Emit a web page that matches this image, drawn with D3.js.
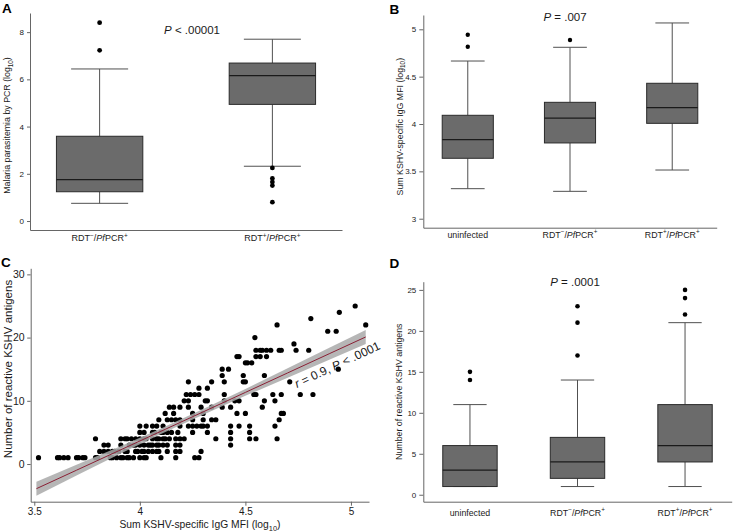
<!DOCTYPE html>
<html><head><meta charset="utf-8">
<script src="https://cdn.jsdelivr.net/npm/d3@7"></script>
<style>
body{margin:0;background:#fff;}
svg{display:block;font-family:"Liberation Sans",Arial,Helvetica,sans-serif;}
</style></head>
<body>
<svg id="chart" width="736" height="532"></svg>
<script>
// ---------- DATA ----------
// Panel A
const catsA = ["RDT−/PfPCR+", "RDT+/PfPCR+"];
const aLo  = [0.75, 2.32];
const aQ1  = [1.24, 4.94];
const aMed = [1.75, 6.16];
const aQ3  = [3.59, 6.69];
const aHi  = [6.44, 7.70];
const aOut = [[8.4, 7.23], [2.25, 1.8, 1.65, 1.5, 0.8]];
const aTicks = [0, 2, 4, 6, 8];
// Panel B
const catsB = ["uninfected", "RDT−/PfPCR+", "RDT+/PfPCR+"];
const bLo  = [3.317, 3.289, 3.514];
const bQ1  = [3.638, 3.80, 4.007];
const bMed = [3.834, 4.063, 4.172];
const bQ3  = [4.092, 4.229, 4.43];
const bHi  = [4.665, 4.81, 5.067];
const bOut = [[4.943, 4.816], [4.887], []];
const bTicks = [3, 3.5, 4, 4.5, 5];
// Panel D
const catsD = ["uninfected", "RDT−/PfPCR+", "RDT+/PfPCR+"];
const dLo  = [1, 1, 1];
const dQ1  = [1, 2, 4];
const dMed = [3, 4, 6];
const dQ3  = [6, 7, 11];
const dHi  = [11, 14, 21];
const dOut = [[15, 14], [23, 21, 17], [25, 24, 22]];
const dTicks = [0, 5, 10, 15, 20, 25];
// Panel C scatter (x = sum KSHV IgG MFI log10, y = number of reactive antigens)
const cLevels = [
  [1, [3.52,3.61,3.62,3.64,3.66,3.70,3.71,3.73,3.74,3.79,3.80,3.86,3.87,3.89,3.91,3.92,3.94,3.95,3.97,4.0,4.02,4.03,4.10,4.17,4.26,4.28]],
  [2, [3.81,3.83,3.85,3.87,3.88,3.90,3.93,3.94,3.98,3.99,4.01,4.02,4.04,4.06,4.08,4.09,4.13,4.17,4.19,4.29]],
  [3, [3.83,3.85,3.91,3.95,3.97,3.98,4.0,4.02,4.04,4.05,4.06,4.08,4.09,4.11,4.13,4.17,4.19,4.43]],
  [4, [3.79,3.91,3.93,3.94,3.96,3.98,4.0,4.02,4.03,4.06,4.08,4.09,4.11,4.12,4.14,4.17,4.19,4.21,4.36,4.43,4.52,4.55,4.65]],
  [5, [4.0,4.02,4.06,4.07,4.10,4.11,4.13,4.15,4.18,4.25,4.32,4.43,4.52]],
  [6, [4.0,4.03,4.06,4.08,4.11,4.19,4.23,4.25,4.27,4.29,4.30,4.32,4.43,4.47,4.52,4.64]],
  [7, [4.09,4.13,4.15,4.17,4.19,4.25,4.30,4.34,4.36,4.66]],
  [8, [4.12,4.16,4.25,4.30,4.46,4.50,4.67,4.68]],
  [9, [4.14,4.16,4.19,4.23,4.29,4.34,4.39,4.43,4.58]],
  [10, [4.21,4.23,4.31,4.32,4.40,4.45,4.47,4.59,4.64]],
  [11, [4.22,4.24,4.26,4.28,4.40,4.54,4.55,4.63,4.67,4.76,4.82]],
  [12, [4.28,4.32]],
  [13, [4.23,4.34,4.40,4.49,4.50,4.71]],
  [14, [4.39,4.49,4.59]],
  [15, [4.39,4.42,4.94]],
  [16, [4.50,4.51,4.53]],
  [17, [4.46,4.47,4.55,4.57,4.60]],
  [18, [4.55,4.57,4.58,4.60,4.62,4.66,4.67,4.74,4.80]],
  [19, [4.73]],
  [20, [4.545]],
  [21, [4.89,4.93]],
  [22, [4.65,5.07]],
  [23, [4.81]],
  [24, [4.945]],
  [25, [5.02]]
];
const fitX   = [3.51, 3.7, 3.9, 4.1, 4.3, 4.5, 4.7, 4.9, 5.07];
const fitY   = [-3.9, -0.98, 2.1, 5.18, 8.25, 11.33, 14.41, 17.49, 20.1];
const bandLo = [-5.0, -1.83, 1.5, 4.73, 7.8, 10.78, 13.66, 16.54, 19.0];
const bandHi = [-2.8, -0.13, 2.7, 5.63, 8.7, 11.88, 15.16, 18.44, 21.2];
const cXTicks = [3.5, 4, 4.5, 5];
const cYTicks = [0, 10, 20, 30];

// ---------- HELPERS ----------
const svg = d3.select("#chart");
const AXIS = "#666", TXT = "#1a1a1a", FILL = "#6b6b6b", EDGE = "#2a2a2a", WHISK = "#505050";

function richCat(t, str, fs) {
  if (!str.startsWith("RDT")) { t.text(str); return; }
  const sign = str[3];
  const sh = fs * 0.38;
  t.append("tspan").text("RDT");
  t.append("tspan").attr("dy", -sh).attr("font-size", fs * 0.72).text(sign);
  t.append("tspan").attr("dy", sh).text("/");
  t.append("tspan").attr("font-style", "italic").text("Pf");
  t.append("tspan").text("PCR");
  t.append("tspan").attr("dy", -sh).attr("font-size", fs * 0.72).text("+");
}
function logTitle(t, pre, fs) {
  t.append("tspan").text(pre + "(log");
  t.append("tspan").attr("dy", fs * 0.3).attr("font-size", fs * 0.72).text("10");
  t.append("tspan").attr("dy", -fs * 0.3).text(")");
}
function styleAxis(g, fs) {
  g.select(".domain").attr("stroke", AXIS);
  g.selectAll(".tick line").attr("stroke", AXIS);
  g.selectAll(".tick text").attr("fill", TXT).attr("font-size", fs).attr("font-family", null);
  g.attr("font-family", null);
}
function drawBoxes(g, x, y, cats, lo, q1, med, q3, hi, outs, boxFrac, capFrac, r) {
  const bw = x.step() * boxFrac, cw = x.step() * capFrac;
  cats.forEach((c, i) => {
    const cx = x(c);
    g.append("line").attr("x1", cx).attr("x2", cx).attr("y1", y(hi[i])).attr("y2", y(q3[i])).attr("stroke", WHISK);
    g.append("line").attr("x1", cx).attr("x2", cx).attr("y1", y(q1[i])).attr("y2", y(lo[i])).attr("stroke", WHISK);
    g.append("line").attr("x1", cx - cw/2).attr("x2", cx + cw/2).attr("y1", y(hi[i])).attr("y2", y(hi[i])).attr("stroke", WHISK);
    g.append("line").attr("x1", cx - cw/2).attr("x2", cx + cw/2).attr("y1", y(lo[i])).attr("y2", y(lo[i])).attr("stroke", WHISK);
    g.append("rect").attr("x", cx - bw/2).attr("width", bw)
      .attr("y", y(q3[i])).attr("height", Math.max(0.5, y(q1[i]) - y(q3[i])))
      .attr("fill", FILL).attr("stroke", EDGE).attr("stroke-width", 1);
    g.append("line").attr("x1", cx - bw/2).attr("x2", cx + bw/2).attr("y1", y(med[i])).attr("y2", y(med[i]))
      .attr("stroke", "#1a1a1a").attr("stroke-width", 1.2);
    g.selectAll(null).data(outs[i]).enter().append("circle")
      .attr("cx", cx).attr("cy", d => y(d)).attr("r", r).attr("fill", "#000");
  });
}
function catAxis(g, x, yPos, cats, fs, baseline) {
  g.append("g").attr("transform", `translate(0,${yPos})`)
    .call(d3.axisBottom(x).tickSize(0).tickSizeOuter(0).tickFormat(""))
    .call(a => a.select(".domain").attr("stroke", AXIS));
  cats.forEach(c => {
    const t = g.append("text").attr("x", x(c)).attr("y", baseline).attr("text-anchor", "middle")
      .attr("font-size", fs).attr("fill", TXT);
    richCat(t, c, fs);
  });
}
function panelLabel(x, y, s) {
  svg.append("text").attr("x", x).attr("y", y).attr("font-size", 13.5).attr("font-weight", "bold").attr("fill", "#000").text(s);
}
function pText(cx, y, rel, val) {
  const t = svg.append("text").attr("x", cx).attr("y", y).attr("text-anchor", "middle").attr("font-size", 11.5).attr("fill", TXT);
  t.append("tspan").attr("font-style", "italic").text("P");
  t.append("tspan").text(" " + rel + " " + val);
}

// ---------- PANEL A ----------
{
  const g = svg.append("g");
  const y = d3.scaleLinear().domain([-0.38, 8.81]).range([230, 13]);
  const x = d3.scalePoint().domain(catsA).range([30, 342]).padding(0.403);
  g.append("g").attr("transform", "translate(30,0)")
    .call(d3.axisLeft(y).tickValues(aTicks).tickSize(3).tickPadding(3).tickSizeOuter(0))
    .call(a => styleAxis(a, 8));
  catAxis(g, x, 230, catsA, 9, 241);
  drawBoxes(g, x, y, catsA, aLo, aQ1, aMed, aQ3, aHi, aOut, 0.5, 0.33, 2.4);
  const t = g.append("text").attr("transform", "translate(10,125.5) rotate(-90)").attr("text-anchor", "middle")
    .attr("font-size", 8.8).attr("fill", TXT);
  logTitle(t, "Malaria parasitemia by PCR ", 8.8);
  panelLabel(2, 12.5, "A");
  pText(192, 33.5, "<", ".00001");
}

// ---------- PANEL B ----------
{
  const g = svg.append("g");
  const y = d3.scaleLinear().domain([2.905, 5.151]).range([227.7, 15]);
  const x = d3.scalePoint().domain(catsB).range([423.3, 716.7]).padding(0.435);
  g.append("g").attr("transform", "translate(423.3,0)")
    .call(d3.axisLeft(y).tickValues(bTicks).tickSize(4).tickPadding(3).tickSizeOuter(0).tickFormat(d => String(d)))
    .call(a => styleAxis(a, 8));
  catAxis(g, x, 227.7, catsB, 8.8, 237.5);
  drawBoxes(g, x, y, catsB, bLo, bQ1, bMed, bQ3, bHi, bOut, 0.5, 0.33, 2.2);
  const t = g.append("text").attr("transform", "translate(402.5,126.7) rotate(-90)").attr("text-anchor", "middle")
    .attr("font-size", 8.8).attr("fill", TXT);
  logTitle(t, "Sum KSHV-specific IgG MFI ", 8.8);
  panelLabel(389.5, 13.5, "B");
  pText(565, 20.5, "=", ".007");
}

// ---------- PANEL D ----------
{
  const g = svg.append("g");
  const y = d3.scaleLinear().domain([-0.85, 26]).range([501.7, 281.7]);
  const x = d3.scalePoint().domain(catsD).range([423.3, 731.7]).padding(0.434);
  g.append("g").attr("transform", "translate(423.3,0)")
    .call(d3.axisLeft(y).tickValues(dTicks).tickSize(4).tickPadding(3).tickSizeOuter(0))
    .call(a => styleAxis(a, 8));
  catAxis(g, x, 501.7, catsD, 8.8, 515.5);
  drawBoxes(g, x, y, catsD, dLo, dQ1, dMed, dQ3, dHi, dOut, 0.506, 0.31, 2.3);
  g.append("text").attr("transform", "translate(401.5,391.7) rotate(-90)").attr("text-anchor", "middle")
    .attr("font-size", 8.8).attr("fill", TXT).text("Number of reactive KSHV antigens");
  panelLabel(389.5, 267.5, "D");
  pText(575, 285.5, "=", ".0001");
}

// ---------- PANEL C ----------
{
  const g = svg.append("g");
  const x = d3.scaleLinear().domain([3.483, 5.0855]).range([30.7, 369]);
  const y = d3.scaleLinear().domain([-5.96, 30.96]).range([501.7, 268.3]);
  g.append("g").attr("transform", "translate(0,501.7)")
    .call(d3.axisBottom(x).tickValues(cXTicks).tickSize(4).tickPadding(2).tickSizeOuter(0).tickFormat(d => String(d)))
    .call(a => styleAxis(a, 10));
  g.append("g").attr("transform", "translate(30.7,0)")
    .call(d3.axisLeft(y).tickValues(cYTicks).tickSize(3.5).tickPadding(2.5).tickSizeOuter(0))
    .call(a => styleAxis(a, 10.5));
  const pts = [];
  cLevels.forEach(([v, xs]) => xs.forEach(xv => pts.push([xv, v])));
  g.selectAll("circle.pt").data(pts).enter().append("circle").attr("class", "pt")
    .attr("cx", d => x(d[0])).attr("cy", d => y(d[1])).attr("r", 2.6).attr("fill", "#000");
  const band = fitX.map((v, i) => ({x: v, lo: bandLo[i], hi: bandHi[i], f: fitY[i]}));
  g.append("path").datum(band)
    .attr("d", d3.area().x(d => x(d.x)).y0(d => y(d.lo)).y1(d => y(d.hi)))
    .attr("fill", "#a9a9a9").attr("fill-opacity", 0.85);
  g.append("path").datum(band)
    .attr("d", d3.line().x(d => x(d.x)).y(d => y(d.f)))
    .attr("fill", "none").attr("stroke", "#8a2035").attr("stroke-width", 1);
  const lab = g.append("text").attr("transform", "translate(297,388) rotate(-25)")
    .attr("font-size", 12).attr("fill", TXT);
  lab.append("tspan").attr("font-style", "italic").text("r");
  lab.append("tspan").text(" = 0.9, ");
  lab.append("tspan").attr("font-style", "italic").text("P");
  lab.append("tspan").text(" < .0001");
  g.append("text").attr("transform", "translate(12,369) rotate(-90)").attr("text-anchor", "middle")
    .attr("font-size", 11.5).attr("fill", TXT).text("Number of reactive KSHV antigens");
  const t = g.append("text").attr("x", 200).attr("y", 528).attr("text-anchor", "middle")
    .attr("font-size", 10.3).attr("fill", TXT);
  logTitle(t, "Sum KSHV-specific IgG MFI ", 10.3);
  panelLabel(1, 267, "C");
}
</script>
</body></html>
